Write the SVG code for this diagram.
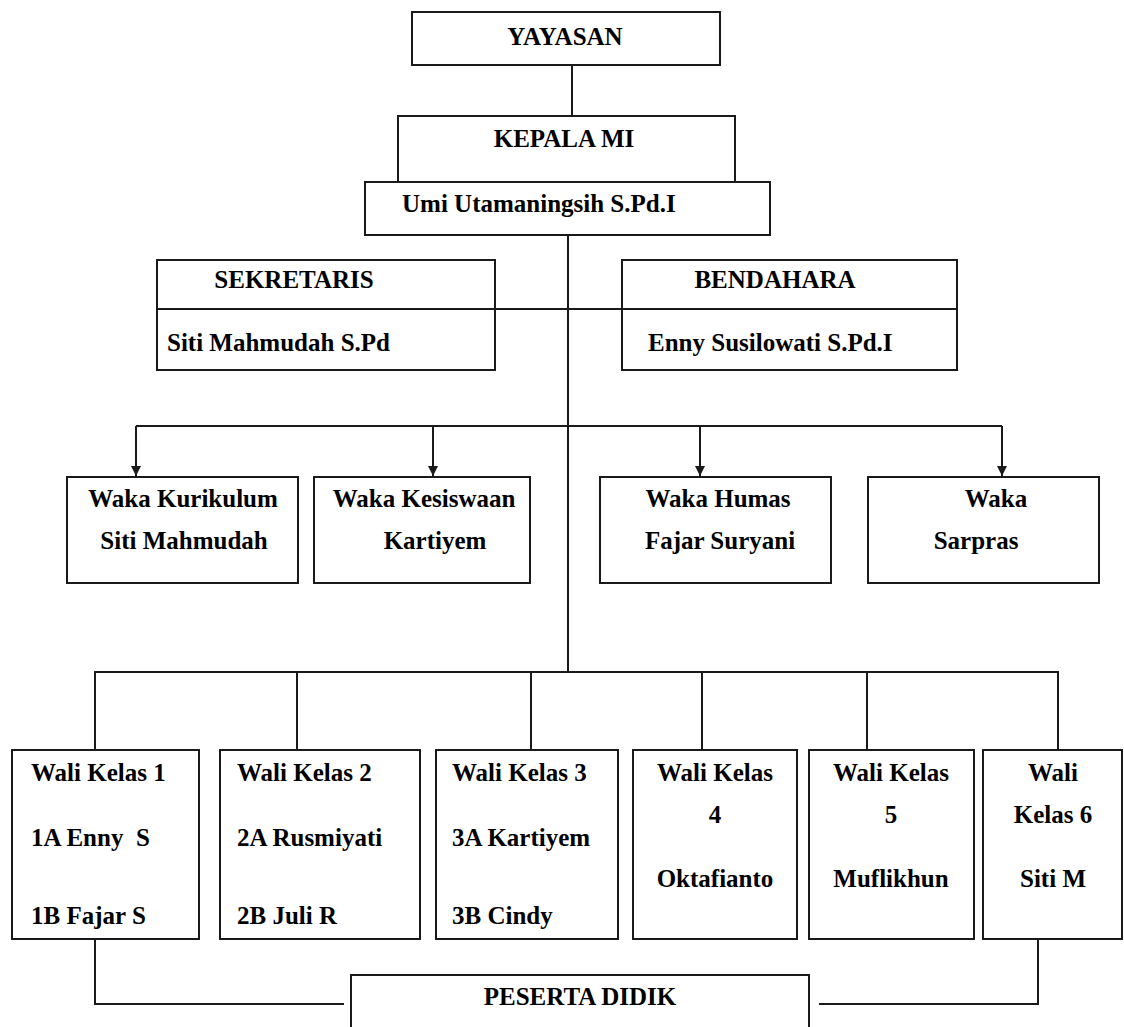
<svg xmlns="http://www.w3.org/2000/svg" width="1124" height="1027" viewBox="0 0 1124 1027">
<style>
.box{fill:#fff;stroke:#1a1a1a;stroke-width:2}
.ln{fill:none;stroke:#1a1a1a;stroke-width:2}
text{font-family:"Liberation Serif","Times New Roman",serif;font-weight:bold;font-size:25px;fill:#000}
.c{text-anchor:middle}
</style>
<defs>
<marker id="arr" viewBox="0 0 10 10" refX="10" refY="5" markerWidth="10" markerHeight="10" markerUnits="userSpaceOnUse" orient="auto">
<path d="M0,0 L10,5 L0,10 Z" fill="#1a1a1a"/>
</marker>
</defs>
<rect width="1124" height="1027" fill="#fff"/>
<g id="connectors">
<line class="ln" x1="572" y1="65" x2="572" y2="116"/>
<line class="ln" x1="568" y1="235" x2="568" y2="672"/>
<line class="ln" x1="495" y1="309" x2="622" y2="309"/>
<line class="ln" x1="136" y1="426" x2="1002" y2="426"/>
<line class="ln" x1="136" y1="426" x2="136" y2="476" marker-end="url(#arr)"/>
<line class="ln" x1="433" y1="426" x2="433" y2="476" marker-end="url(#arr)"/>
<line class="ln" x1="700" y1="426" x2="700" y2="476" marker-end="url(#arr)"/>
<line class="ln" x1="1002" y1="426" x2="1002" y2="476" marker-end="url(#arr)"/>
<polyline class="ln" points="95,750 95,672 1058,672 1058,750"/>
<line class="ln" x1="297" y1="672" x2="297" y2="750"/>
<line class="ln" x1="531" y1="672" x2="531" y2="750"/>
<line class="ln" x1="702" y1="672" x2="702" y2="750"/>
<line class="ln" x1="867" y1="672" x2="867" y2="750"/>
<polyline class="ln" points="95,939 95,1004 344,1004"/>
<polyline class="ln" points="1038,939 1038,1004 819,1004"/>
</g>
<g id="yayasan">
<rect class="box" x="412" y="12" width="308" height="53"/>
<text class="c" x="565" y="45">YAYASAN</text>
</g>
<g id="kepala">
<rect class="box" x="398" y="116" width="337" height="66"/>
<text class="c" x="564" y="147">KEPALA MI</text>
</g>
<g id="umi">
<rect class="box" x="365" y="182" width="405" height="53"/>
<text x="402" y="212">Umi Utamaningsih S.Pd.I</text>
</g>
<g id="sekretaris">
<rect class="box" x="157" y="260" width="338" height="110"/>
<line class="ln" x1="157" y1="309" x2="495" y2="309"/>
<text class="c" x="294" y="288">SEKRETARIS</text>
<text x="167" y="351">Siti Mahmudah S.Pd</text>
</g>
<g id="bendahara">
<rect class="box" x="622" y="260" width="335" height="110"/>
<line class="ln" x1="622" y1="309" x2="957" y2="309"/>
<text class="c" x="775" y="288">BENDAHARA</text>
<text x="648" y="351">Enny Susilowati S.Pd.I</text>
</g>
<g id="waka-kurikulum">
<rect class="box" x="67" y="477" width="231" height="106"/>
<text class="c" x="183" y="507">Waka Kurikulum</text>
<text class="c" x="184" y="549">Siti Mahmudah</text>
</g>
<g id="waka-kesiswaan">
<rect class="box" x="314" y="477" width="216" height="106"/>
<text class="c" x="424" y="507">Waka Kesiswaan</text>
<text class="c" x="435" y="549">Kartiyem</text>
</g>
<g id="waka-humas">
<rect class="box" x="600" y="477" width="231" height="106"/>
<text class="c" x="718" y="507">Waka Humas</text>
<text class="c" x="720" y="549">Fajar Suryani</text>
</g>
<g id="waka-sarpras">
<rect class="box" x="868" y="477" width="231" height="106"/>
<text class="c" x="996" y="507">Waka</text>
<text class="c" x="976" y="549">Sarpras</text>
</g>
<g id="wali1">
<rect class="box" x="12" y="750" width="187" height="189"/>
<text x="31" y="781">Wali Kelas 1</text>
<text x="31" y="846" xml:space="preserve">1A Enny  S</text>
<text x="31" y="924">1B Fajar S</text>
</g>
<g id="wali2">
<rect class="box" x="220" y="750" width="200" height="189"/>
<text x="237" y="781">Wali Kelas 2</text>
<text x="237" y="846">2A Rusmiyati</text>
<text x="237" y="924">2B Juli R</text>
</g>
<g id="wali3">
<rect class="box" x="436" y="750" width="182" height="189"/>
<text x="452" y="781">Wali Kelas 3</text>
<text x="452" y="846">3A Kartiyem</text>
<text x="452" y="924">3B Cindy</text>
</g>
<g id="wali4">
<rect class="box" x="633" y="750" width="164" height="189"/>
<text class="c" x="715" y="781">Wali Kelas</text>
<text class="c" x="715" y="823">4</text>
<text class="c" x="715" y="887">Oktafianto</text>
</g>
<g id="wali5">
<rect class="box" x="809" y="750" width="165" height="189"/>
<text class="c" x="891" y="781">Wali Kelas</text>
<text class="c" x="891" y="823">5</text>
<text class="c" x="891" y="887">Muflikhun</text>
</g>
<g id="wali6">
<rect class="box" x="983" y="750" width="139" height="189"/>
<text class="c" x="1053" y="781">Wali</text>
<text class="c" x="1053" y="823">Kelas 6</text>
<text class="c" x="1053" y="887">Siti M</text>
</g>
<g id="peserta">
<rect class="box" x="351" y="975" width="458" height="70"/>
<text class="c" x="580" y="1005">PESERTA DIDIK</text>
</g>
</svg>
